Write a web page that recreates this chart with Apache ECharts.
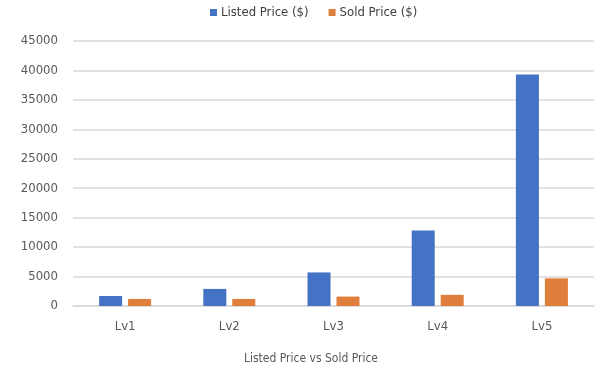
<!DOCTYPE html>
<html><head><meta charset="utf-8">
<script src="https://cdn.jsdelivr.net/npm/echarts@6/dist/echarts.min.js"></script>
<style>html,body{margin:0;padding:0;background:#fff;overflow:hidden}#c{width:616px;height:366px}</style>
</head><body><div id="c"></div>
<script>
const categories = ['Lv1','Lv2','Lv3','Lv4','Lv5'];
const listedPrice = [1700, 2900, 5700, 12800, 39300];
const soldPrice = [1200, 1200, 1600, 1900, 4700];
const seriesNames = ['Listed Price ($)', 'Sold Price ($)'];
const axisTitle = 'Listed Price vs Sold Price';

const chart = echarts.init(document.getElementById('c'), null, {renderer:'canvas'});
const font = '"DejaVu Sans Condensed", "Liberation Sans Narrow", sans-serif';
chart.setOption({
  animation:false,
  title:{text:axisTitle,left:311,top:353,textAlign:'center',
    textStyle:{fontFamily:font,fontSize:12,fontWeight:'normal',color:'#595959'},padding:0},
  legend:{top:6,left:210,itemWidth:7,itemHeight:7,itemGap:20,icon:'rect',padding:0,
    textStyle:{fontFamily:font,fontSize:13,color:'#404040',padding:[0,0,0,-1]},data:seriesNames},
  grid:{left:73,right:22,top:41,bottom:60,containLabel:false,outerBoundsMode:'none'},
  xAxis:{type:'category',data:categories,
    axisLine:{lineStyle:{color:'#d9d9d9',width:1.5}},axisTick:{show:false},
    axisLabel:{fontFamily:font,fontSize:13,color:'#595959',margin:14}},
  yAxis:{type:'value',min:0,max:45000,interval:5000,
    axisLine:{show:false},axisTick:{show:false},
    axisLabel:{fontFamily:font,fontSize:13,color:'#595959',margin:15,formatter:v=>String(v)},
    splitLine:{lineStyle:{color:'#d9d9d9',width:1.5}}},
  series:[
    {name:seriesNames[0],type:'bar',data:listedPrice,barWidth:23,barGap:'26%',
      itemStyle:{color:'#4472C4'}},
    {name:seriesNames[1],type:'bar',data:soldPrice,barWidth:23,barGap:'26%',
      itemStyle:{color:'#E07F3B'}}
  ]
});
</script></body></html>
